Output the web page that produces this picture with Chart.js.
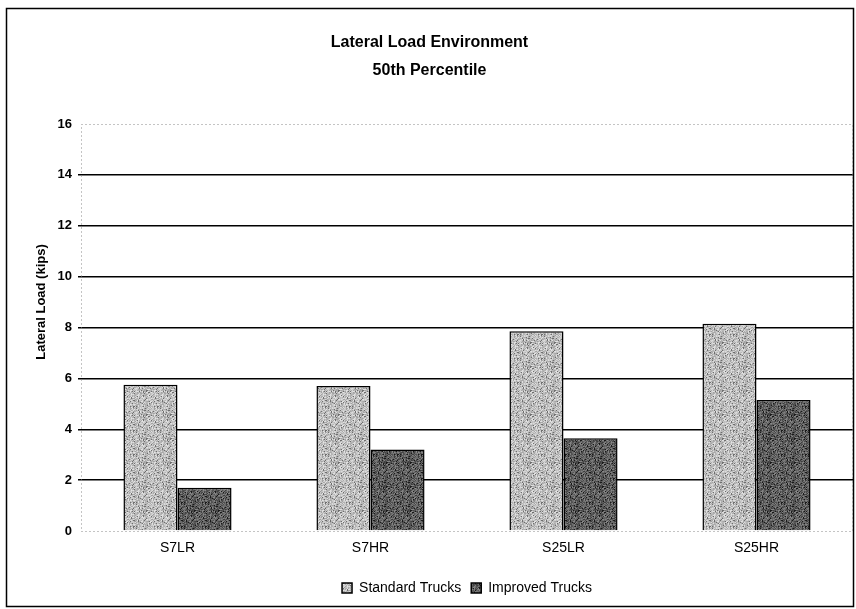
<!DOCTYPE html>
<html>
<head>
<meta charset="utf-8">
<script src="https://cdn.jsdelivr.net/npm/chart.js@4.4.1/dist/chart.umd.min.js"></script>
<style>
  html, body { margin: 0; padding: 0; background: #fff; }
  #wrap { width: 856px; height: 609px; }
</style>
</head>
<body>
<div id="wrap"><canvas id="lateralChart" width="856" height="609"></canvas></div>
<script>
const categories = ["S7LR", "S7HR", "S25LR", "S25HR"];
const standardTrucks = [5.75, 5.7, 7.85, 8.15];
const improvedTrucks = [1.7, 3.2, 3.65, 5.15];
const yTicks = [0, 2, 4, 6, 8, 10, 12, 14, 16];

// speckled fill like the scanned print
function speckle(base, spread, dark) {
    const c = document.createElement("canvas");
    c.width = 24;
    c.height = 24;
    const g = c.getContext("2d");
    const img = g.createImageData(24, 24);
    for (let y = 0; y < 24; y++) {
        for (let x = 0; x < 24; x++) {
            const h = Math.abs(Math.sin(x * 12.9898 + y * 78.233) * 43758.5453) % 1;
            let v = base + (h - 0.5) * spread;
            if (h > 0.88) v = dark;
            v = Math.max(0, Math.min(255, v));
            const i = (y * 24 + x) * 4;
            img.data[i] = img.data[i + 1] = img.data[i + 2] = v;
            img.data[i + 3] = 255;
        }
    }
    g.putImageData(img, 0, 0);
    return g.createPattern(c, "repeat");
}

const isEdge = (c) => c.tick && (c.tick.value === 0 || c.tick.value === 16);

const frame = {
    id: "frame",
    beforeDraw(chart) {
        const ctx = chart.ctx;
        ctx.save();
        ctx.fillStyle = "#fff";
        ctx.fillRect(0, 0, chart.width, chart.height);
        ctx.strokeStyle = "#000";
        ctx.lineWidth = 1.5;
        ctx.strokeRect(6.5, 8.5, 847, 598);
        ctx.restore();
    },
    beforeDatasetsDraw(chart) {
        // dotted outline of the plot area
        const { ctx, chartArea: a } = chart;
        ctx.save();
        ctx.strokeStyle = "#888";
        ctx.lineWidth = 1;
        ctx.setLineDash([1, 3]);
        ctx.strokeRect(a.left + 0.5, a.top + 0.5, a.right - a.left - 1, a.bottom - a.top);
        ctx.restore();
    },
    afterDraw(chart) {
        // y axis title, sits a bit above the plot centre in the original
        const ctx = chart.ctx;
        ctx.save();
        ctx.translate(41, 302);
        ctx.rotate(-Math.PI / 2);
        ctx.fillStyle = "#000";
        ctx.font = "bold 13px 'Liberation Sans'";
        ctx.textAlign = "center";
        ctx.textBaseline = "middle";
        ctx.fillText("Lateral Load (kips)", 0, 0);
        ctx.restore();
    },
};

const ctx = document.getElementById("lateralChart").getContext("2d");
new Chart(ctx, {
    type: "bar",
    data: {
        labels: categories,
        datasets: [
            {
                label: "Standard Trucks",
                data: standardTrucks,
                backgroundColor: speckle(200, 80, 110),
                borderColor: "#000",
                borderWidth: 1.5,
                categoryPercentage: 0.56,
                barPercentage: 1.0,
            },
            {
                label: "Improved Trucks",
                data: improvedTrucks,
                backgroundColor: speckle(105, 90, 25),
                borderColor: "#000",
                borderWidth: 1.5,
                categoryPercentage: 0.56,
                barPercentage: 1.0,
            },
        ],
    },
    options: {
        responsive: false,
        animation: false,
        layout: {
            padding: { left: 6, right: 3, top: 27, bottom: 4 },
        },
        plugins: {
            title: {
                display: true,
                text: ["Lateral Load Environment", "50th Percentile"],
                color: "#000",
                font: { family: "Liberation Sans", size: 16, weight: "bold", lineHeight: 1.75 },
                padding: { top: 2, bottom: 39 },
            },
            legend: {
                position: "bottom",
                fullSize: false,
                labels: {
                    color: "#000",
                    boxWidth: 10,
                    boxHeight: 10,
                    padding: 10,
                    font: { family: "Liberation Sans", size: 14 },
                },
            },
            tooltip: { enabled: false },
        },
        scales: {
            x: {
                afterFit: (axis) => {
                    axis.height = 40;
                },
                grid: { display: false },
                border: { display: false },
                ticks: {
                    color: "#000",
                    font: { family: "Liberation Sans", size: 14 },
                    padding: 1,
                },
            },
            y: {
                min: 0,
                max: 16,
                afterFit: (axis) => {
                    axis.width = 75;
                },
                afterBuildTicks: (axis) => {
                    axis.ticks = yTicks.map((v) => ({ value: v }));
                },
                grid: {
                    color: (c) => (isEdge(c) ? "rgba(0,0,0,0)" : "#000"),
                    lineWidth: 1.5,
                    tickLength: 3,
                },
                border: { display: false },
                ticks: {
                    color: "#000",
                    font: { family: "Liberation Sans", size: 13, weight: "bold" },
                    padding: 6,
                },
            },
        },
    },
    plugins: [frame],
});
</script>
</body>
</html>
